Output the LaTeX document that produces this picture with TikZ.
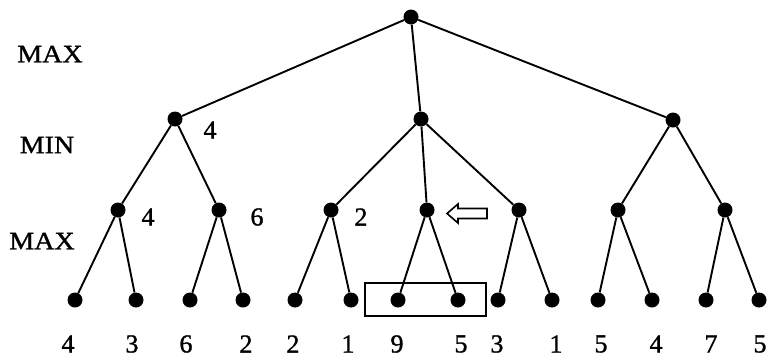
\documentclass[tikz,border=0pt]{standalone}
\usepackage{fontspec}
\setmainfont{Liberation Serif}
\newfontfamily\widefont[FakeStretch=1.12,FakeBold=1.2]{Liberation Serif}
\newfontfamily\numfont[FakeBold=1.2]{Liberation Serif}
\begin{document}
\begin{tikzpicture}[x=1pt,y=-1pt,
  dot/.style={circle,fill=black,inner sep=0pt,minimum size=15pt},
  edge/.style={line width=1.9pt},
  lvl/.style={font=\widefont\fontsize{25}{25}\selectfont,inner sep=0pt},
  val/.style={font=\numfont\fontsize{26}{26}\selectfont,inner sep=0pt}]
\useasboundingbox (0,0) rectangle (768,360);
% nodes
\node[dot] (r) at (411,17) {};
\node[dot] (a) at (175,119) {};
\node[dot] (b) at (421,119) {};
\node[dot] (c) at (673,120) {};
\node[dot] (a1) at (118,210) {};
\node[dot] (a2) at (219,210) {};
\node[dot] (b1) at (331,210) {};
\node[dot] (b2) at (427,210) {};
\node[dot] (b3) at (519,210) {};
\node[dot] (c1) at (618,210) {};
\node[dot] (c2) at (725,210) {};
\foreach \n/\x in {l1/75,l2/136,l3/190,l4/243,l5/295,l6/351,l7/398,l8/458,l9/498,l10/552,l11/598,l12/652,l13/706,l14/759}
  \node[dot] (\n) at (\x,300) {};
% edges
\foreach \p/\q in {r/a,r/b,r/c,a/a1,a/a2,b/b1,b/b2,b/b3,c/c1,c/c2,
  a1/l1,a1/l2,a2/l3,a2/l4,b1/l5,b1/l6,b2/l7,b2/l8,b3/l9,b3/l10,c1/l11,c1/l12,c2/l13,c2/l14}
  \draw[edge] (\p) -- (\q);
% level labels
\node[lvl] (t1) at (50,54) {MAX};
\node[lvl] (t2) at (47,145) {MIN};
\node[lvl] (t3) at (42,241) {MAX};
% value labels
\node[val] (v1) at (210,130) {4};
\node[val] (v2) at (148,217) {4};
\node[val] (v3) at (257,217) {6};
\node[val] (v4) at (361,217) {2};
\foreach \n/\x/\t in {w1/68/4,w2/132/3,w3/186/6,w4/246/2,w5/293/2,w6/348/1,w7/397/9,w8/461/5,w9/497/3,w10/556/1,w11/601/5,w12/656/4,w13/711/7,w14/760/5}
  \node[val] (\n) at (\x,344) {\t};
% box
\draw[line width=1.8pt] (365,283) rectangle (486,316);
% hollow arrow
\draw[line width=1.6pt,line join=miter] (447,213.5) -- (458,204) -- (458,208.5) -- (487,208.5) -- (487,218.5) -- (458,218.5) -- (458,223) -- cycle;
\end{tikzpicture}
\end{document}
